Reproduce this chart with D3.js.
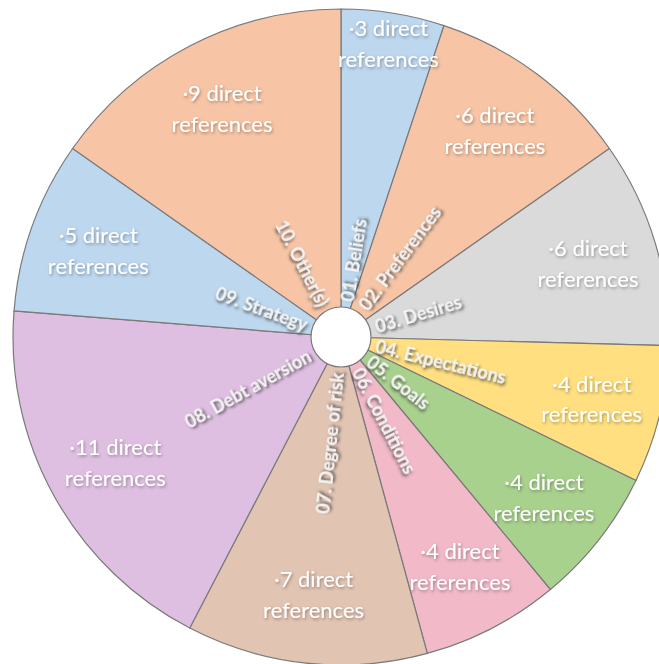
<!DOCTYPE html>
<html>
<head>
<meta charset="utf-8">
<script src="https://cdn.jsdelivr.net/npm/d3@7"></script>
<style>
  html, body { margin: 0; padding: 0; background: #fff; }
  svg { display: block; }
</style>
</head>
<body>
<svg></svg>
<script>
var categories = ["01. Beliefs", "02. Preferences", "03. Desires", "04. Expectations", "05. Goals",
    "06. Conditions", "07. Degree of risk", "08. Debt aversion", "09. Strategy", "10. Other(s)"];
var references = [3, 6, 6, 4, 4, 4, 7, 11, 5, 9];
var colors = ["#bdd7ee", "#f7c5a5", "#dadada", "#ffdf80", "#a9d18e",
    "#f2b9c8", "#e2c4b3", "#dfbfe1", "#bdd7ee", "#f7c5a5"];

var W = 659, H = 664;
var cx = 341, cy = 337;
var R = 328, r0 = 30;

var svg = d3.select("svg").attr("width", W).attr("height", H);

var defs = svg.append("defs");
defs.append("filter").attr("id", "innerShadow")
    .attr("x", "-20%").attr("y", "-50%").attr("width", "140%").attr("height", "200%")
    .append("feDropShadow")
    .attr("dx", 1.5).attr("dy", 2).attr("stdDeviation", 1.4)
    .attr("flood-color", "#3a3a3a").attr("flood-opacity", 0.85);
defs.append("filter").attr("id", "outerShadow")
    .attr("x", "-20%").attr("y", "-50%").attr("width", "140%").attr("height", "200%")
    .append("feDropShadow")
    .attr("dx", 1).attr("dy", 1.5).attr("stdDeviation", 1.8)
    .attr("flood-color", "#000").attr("flood-opacity", 0.35);

var pie = d3.pie().sort(null).value(function (d) { return d; });
var arcs = pie(references);

var arc = d3.arc().innerRadius(0).outerRadius(R);

var g = svg.append("g").attr("transform", "translate(" + cx + "," + cy + ")");

g.selectAll("path.slice")
    .data(arcs)
    .enter().append("path")
    .attr("class", "slice")
    .attr("d", arc)
    .style("fill", function (d, i) { return colors[i]; })
    .style("stroke", "#7a7a7a")
    .style("stroke-width", 1.2);

g.append("circle")
    .attr("r", r0)
    .style("fill", "#fff")
    .style("stroke", "#7a7a7a")
    .style("stroke-width", 1.2);

function mid(d) {
    return (d.startAngle + d.endAngle) / 2;
}

// category names along the radius, starting just outside the hole
g.selectAll("text.cat")
    .data(arcs)
    .enter().append("text")
    .attr("class", "cat")
    .attr("filter", "url(#innerShadow)")
    .style("font-family", "Lato, 'Open Sans', sans-serif")
    .style("font-weight", "bold")
    .style("font-size", "18px")
    .style("fill", "#f4f4f4")
    .attr("dominant-baseline", "central")
    .attr("transform", function (d) {
        var a = mid(d) * 180 / Math.PI;
        var rr = r0 + 6;
        var x = rr * Math.sin(mid(d)), y = -rr * Math.cos(mid(d));
        var rot = a < 180 ? a - 90 : a + 90;
        return "translate(" + x + "," + y + ") rotate(" + rot + ")";
    })
    .attr("text-anchor", function (d) { return mid(d) < Math.PI ? "start" : "end"; })
    .text(function (d, i) { return categories[i]; });

// counts in the outer part of each slice
var lab = g.selectAll("text.count")
    .data(arcs)
    .enter().append("text")
    .attr("class", "count")
    .attr("filter", "url(#outerShadow)")
    .style("font-family", "Lato, 'Open Sans', sans-serif")
    .style("font-size", "22px")
    .style("fill", "#fff")
    .attr("text-anchor", "middle")
    .attr("transform", function (d) {
        var span = d.endAngle - d.startAngle;
        var rr = span < 0.35 ? 298 : 258;
        return "translate(" + (rr * Math.sin(mid(d))) + "," + (-rr * Math.cos(mid(d))) + ")";
    });
lab.append("tspan").attr("x", 0).attr("dy", "-0.3em")
    .text(function (d) { return "\u00b7" + d.data + " direct"; });
lab.append("tspan").attr("x", 0).attr("dy", "1.4em")
    .text("references");
</script>
</body>
</html>
